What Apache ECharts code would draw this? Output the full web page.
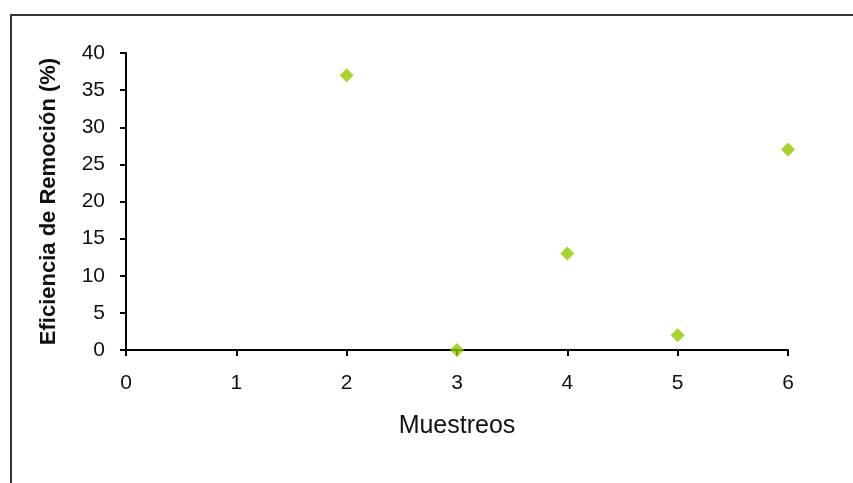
<!DOCTYPE html>
<html>
<head>
<meta charset="utf-8">
<style>
  html, body { margin: 0; padding: 0; background: #fff; }
  #chart { width: 853px; height: 483px; }
</style>
<script src="https://cdn.jsdelivr.net/npm/echarts@6/dist/echarts.min.js"></script>
</head>
<body>
<div id="chart"></div>
<script>
// Sampling rounds and removal efficiency (%) measured at each one
const muestreos = [2, 3, 4, 5, 6];
const eficiencia = [37, 0, 13, 2, 27];

const xTitle = 'Muestreos';
const yTitle = 'Eficiencia de Remoción (%)';

const points = muestreos.map((m, i) => [m, eficiencia[i]]);

const chart = echarts.init(document.getElementById('chart'), null, { renderer: 'canvas' });

const labelFont = { fontFamily: 'Liberation Sans, Arial, sans-serif', color: '#111' };

chart.setOption({
  animation: false,
  backgroundColor: '#fff',
  grid: { left: 126, right: 65, top: 53, bottom: 133 },
  graphic: [{
    type: 'polyline',
    shape: { points: [[11, 483], [11, 15], [853, 15]] },
    style: { stroke: '#333', lineWidth: 2, fill: null }
  }],
  xAxis: {
    type: 'value',
    min: 0, max: 6, interval: 1,
    name: xTitle,
    nameLocation: 'middle',
    nameGap: 64,
    nameTextStyle: Object.assign({ fontSize: 25 }, labelFont),
    splitLine: { show: false },
    axisLine: { show: true, onZero: false, lineStyle: { color: '#000', width: 2 } },
    axisTick: { show: true, length: 6, lineStyle: { color: '#000', width: 2 } },
    axisLabel: Object.assign({ fontSize: 21, margin: 23 }, labelFont)
  },
  yAxis: {
    type: 'value',
    min: 0, max: 40, interval: 5,
    name: yTitle,
    nameLocation: 'middle',
    nameGap: 66,
    nameRotate: 90,
    nameTextStyle: Object.assign({ fontSize: 22, fontWeight: 'bold' }, labelFont),
    splitLine: { show: false },
    axisLine: { show: true, lineStyle: { color: '#000', width: 2 } },
    axisTick: { show: true, length: 6, lineStyle: { color: '#000', width: 2 } },
    axisLabel: Object.assign({ fontSize: 21, margin: 21 }, labelFont)
  },
  series: [{
    type: 'scatter',
    data: points,
    symbol: 'diamond',
    symbolSize: 14,
    itemStyle: { color: '#92c800' }
  }]
});
</script>
</body>
</html>
